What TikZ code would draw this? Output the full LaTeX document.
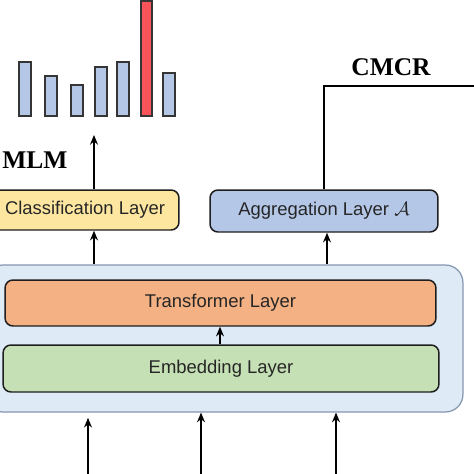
\documentclass[tikz,border=0pt]{standalone}
\usepackage{fontspec}
\setmainfont{Liberation Sans}
\newfontfamily\titlefont{Liberation Serif}
\usetikzlibrary{arrows.meta,positioning}
\definecolor{barblue}{HTML}{B4C7E7}
\definecolor{barred}{HTML}{F8545A}
\definecolor{clsyellow}{HTML}{FDE7A0}
\definecolor{outerblue}{HTML}{DEEBF7}
\definecolor{outerline}{HTML}{8497B0}
\definecolor{transorange}{HTML}{F4B183}
\definecolor{embgreen}{HTML}{C5E0B4}
\definecolor{edgedark}{HTML}{1E1E1E}
\begin{document}
\begin{tikzpicture}[x=0.02cm,y=-0.02cm]
		\tikzset{
			layer/.style={draw=edgedark,line width=0.85pt,rounded corners=4.5pt,inner sep=0pt,
				font=\fontsize{10.5}{12}\selectfont,text=black!85},
			bar/.style={draw=edgedark!90,line width=0.7pt},
			arr/.style={-{Stealth[length=5.5pt,width=4.5pt]},line width=0.75pt},
			title/.style={font=\titlefont\bfseries\fontsize{14.5}{16}\selectfont}
		}
		\useasboundingbox (0,0) rectangle (474,474);
		\clip (0,0) rectangle (474,474);
		% encoder block
		\node[draw=outerline,fill=outerblue,line width=0.7pt,rounded corners=10pt,
			minimum width=9.56cm,minimum height=2.94cm] (enc) at (224,338.5) {};
		\node[layer,fill=transorange,minimum width=8.62cm,minimum height=0.92cm] (trans) at (220.5,303) {Transformer Layer};
		\node[layer,fill=embgreen,minimum width=8.72cm,minimum height=0.94cm] (emb) at (221,368.5) {Embedding Layer};
		% heads
		\node[layer,fill=clsyellow,minimum width=3.76cm,minimum height=0.8cm] (cls) at (85,210) {Classification Layer};
		\node[layer,fill=barblue,minimum width=4.56cm,minimum height=0.84cm] (agg) at (324,211) {Aggregation Layer $\mathcal{A}$};
		\node[title,anchor=west,inner sep=0pt] (mlm) at (2,160) {MLM};
		\node[title] (cmcr) at (391,67) {CMCR};
		% bars
		\foreach \x/\t in {19/62,45/76,71/85,95/67,117/62,163/73}
			\draw[bar,fill=barblue] (\x,116) rectangle ++(12,\t-116);
		\draw[bar,fill=barred] (141,116) rectangle (152,1);
		\path (94,135) coordinate (mlmtip)
			(474,86) coordinate (cmcrend)
			(327,0) coordinate (aggx)
			(220,0) coordinate (embx)
			(88,474) coordinate (in1)
			(201,474) coordinate (in2)
			(336,474) coordinate (in3);
		% connectors
		\draw[arr] (cls.north -| mlmtip) -- (mlmtip);
		\draw[line width=0.85pt] (agg.north) |- (cmcrend);
		\draw[arr] (enc.north -| mlmtip) -- (cls.south -| mlmtip);
		\draw[arr] (enc.north -| aggx) -- (agg.south -| aggx);
		\draw[arr] (emb.north -| embx) -- (trans.south -| embx);
		\draw[arr] (in1) -- ([yshift=-3pt]enc.south -| in1);
		\draw[arr] (in2) -- (enc.south -| in2);
		\draw[arr] (in3) -- (enc.south -| in3);
	\end{tikzpicture}
\end{document}
